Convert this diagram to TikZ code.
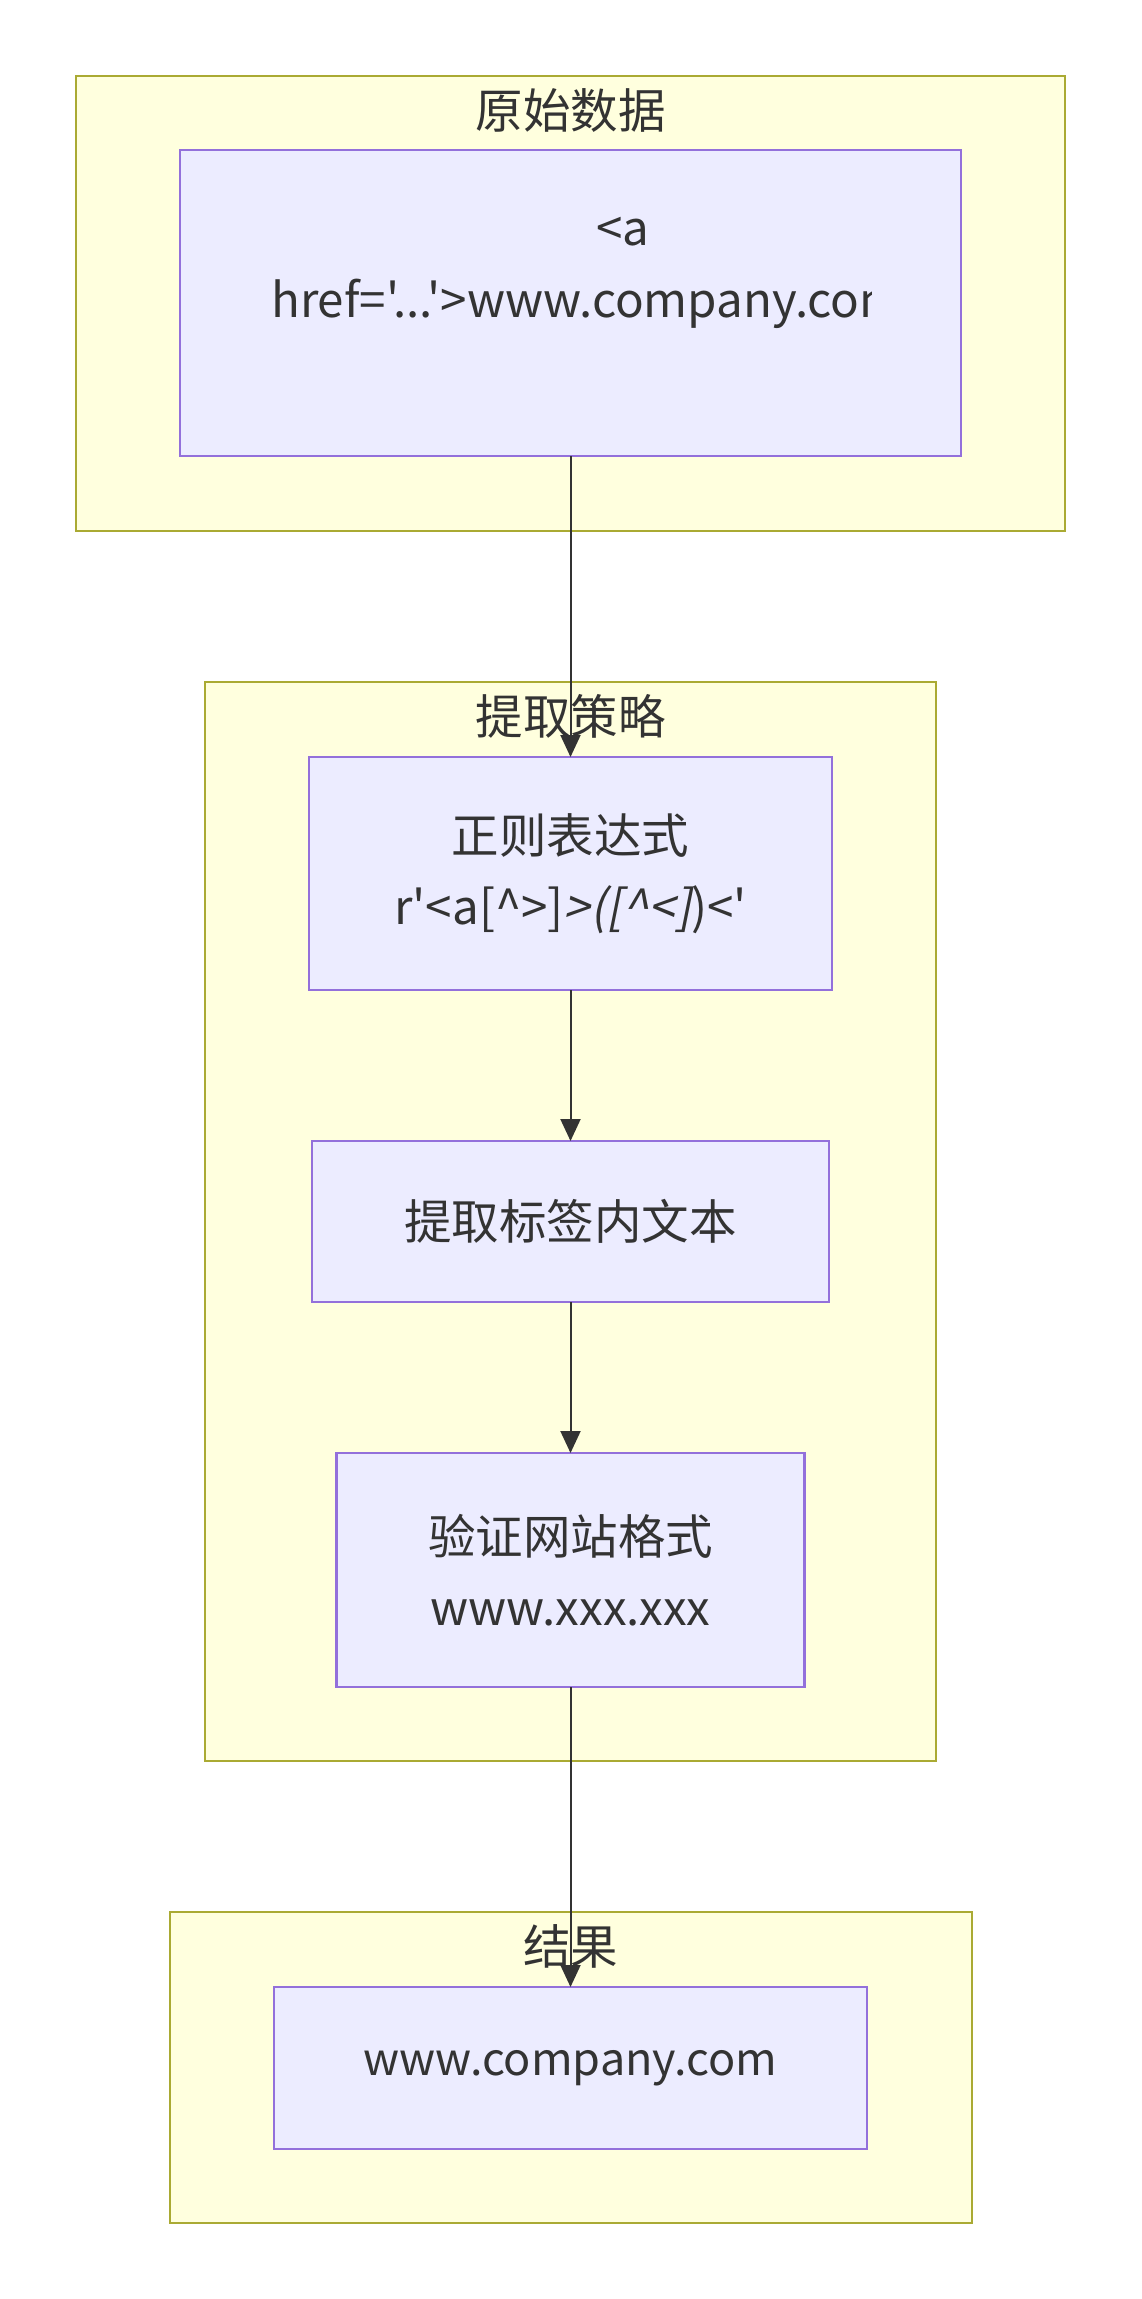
\documentclass[tikz,border=0pt]{standalone}
\usepackage{fontspec}
\setmainfont{Noto Sans CJK SC}[Ligatures=TeXOff,AutoFakeSlant=0.2]
\usetikzlibrary{arrows.meta,positioning}
\definecolor{mmtext}{HTML}{333333}
\definecolor{mmclfill}{HTML}{FFFFDE}
\definecolor{mmcldraw}{HTML}{AAAA33}
\definecolor{mmndfill}{HTML}{ECECFF}
\definecolor{mmnddraw}{HTML}{9370DB}

\begin{document}
\begin{tikzpicture}[x=1pt,y=-1pt,
  every node/.style={font=\fontsize{47.5}{71}\selectfont, text=mmtext},
  cluster/.style={draw=mmcldraw, fill=mmclfill, line width=2pt, inner sep=0pt, outer sep=0pt},
  stepbox/.style={draw=mmnddraw, fill=mmndfill, line width=2.5pt, inner sep=0pt, outer sep=0pt, align=center},
  flow/.style={-{Triangle[length=22pt,width=20pt]}, mmtext, line width=2pt}]
\useasboundingbox (0,0) rectangle (1141,2299);

% Cluster - raw data
\node[cluster, minimum width=989pt, minimum height=455pt] (rawcl) at (570.5,303.5) {};
\node (rawtitle) at (570.5,110) {原始数据};
\node[stepbox, minimum width=781pt, minimum height=306pt] (raw) at (570.5,303) {};
\node (rawa) at (623,232) {<a};
\begin{scope}
  \clip (180,150) rectangle (871,456);
  \node[anchor=west, inner sep=0pt] (rawhref) at (271,304) {href='...'>www.company.com};
\end{scope}

% Cluster - extraction strategy
\node[cluster, minimum width=731pt, minimum height=1079pt] (stratcl) at (570.5,1221.5) {};
\node (strattitle) at (570.5,716) {提取策略};
\node[stepbox, minimum width=523pt, minimum height=233pt] (regex) at (570.5,873.5)
  {正则表达式\\r'<a[\textasciicircum>]\textit{>([\textasciicircum<]})<'};
\node[stepbox, minimum width=517pt, minimum height=161pt] (inner) at (570.5,1221.5)
  {提取标签内文本};
\node[stepbox, minimum width=468pt, minimum height=234pt] (check) at (570.5,1570)
  {验证网站格式\\www.xxx.xxx};

% Cluster - result
\node[cluster, minimum width=802pt, minimum height=311pt] (rescl) at (570.5,2067.5) {};
\node (restitle) at (570.5,1946) {结果};
\node[stepbox, minimum width=593pt, minimum height=162pt, font=\fontsize{45}{68}\selectfont,
      text height=1.4em, text depth=0pt] (result) at (570.5,2068)
  {www.company.com};

% Connectors
\draw[flow] (raw.south) -- (regex.north);
\draw[flow] (regex.south) -- (inner.north);
\draw[flow] (inner.south) -- (check.north);
\draw[flow] (check.south) -- (result.north);
\end{tikzpicture}
\end{document}
